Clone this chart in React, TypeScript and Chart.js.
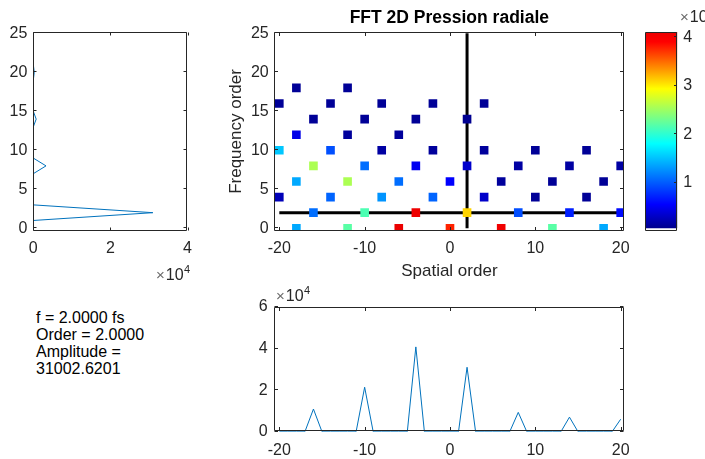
import React, { useEffect, useRef } from 'react';
import { Chart, registerables } from 'chart.js';

Chart.register(...registerables);

const FONT = "'Liberation Sans', Arial, Helvetica, sans-serif";
const AXIS_COLOR = '#262626';
const LINE_BLUE = '#0072BD';

// ---- 2D spectrum cells (spatial order, frequency order, amplitude) ----
const cellSpatial = [
  -18, -12, -6, 0, 6, 12, 18,
  -16, -10, -4, 2, 8, 14, 20,
  -20, -14, -8, -2, 4, 10, 16,
  -18, -12, -6, 0, 6, 12, 18,
  -16, -10, -4, 2, 8, 14, 20,
  -20, -14, -8, -2, 4, 10, 16,
  -18, -12, -6,
  -16, -10, -4, 2,
  -20, -14, -8, -2, 4,
  -18, -12,
];
const cellFreq = [
  0, 0, 0, 0, 0, 0, 0,
  2, 2, 2, 2, 2, 2, 2,
  4, 4, 4, 4, 4, 4, 4,
  6, 6, 6, 6, 6, 6, 6,
  8, 8, 8, 8, 8, 8, 8,
  10, 10, 10, 10, 10, 10, 10,
  12, 12, 12,
  14, 14, 14, 14,
  16, 16, 16, 16, 16,
  18, 18,
];
const cellAmp = [
  13800, 22000, 41100, 37800, 40500, 22000, 13800,
  10900, 21400, 40800, 31003, 9300, 7000, 6000,
  2400, 10400, 12800, 10400, 3200, 1000, 1000,
  13800, 25700, 10900, 5500, 1200, 1000, 1000,
  25700, 10900, 4900, 3300, 1500, 1500, 1500,
  15300, 9400, 1500, 1200, 1200, 1000, 1000,
  4500, 1200, 1200,
  1000, 1000, 1000, 750,
  1000, 1000, 1000, 1000, 1000,
  1000, 1000,
];

// cursor lines
const cursorSpatial = 2;
const cursorFreq = 2;
const cursorSpatialSpan = [-20, 20];
const cursorFreqSpan = [0, 25];

// column cut (spatial order 2) vs frequency order
const freqOrders = [0, 1, 2, 3, 4, 5, 6, 7, 8, 9, 10, 11, 12, 13, 14, 15, 16, 17, 18, 19, 20, 21, 22, 23, 24, 25];
const columnAmp = [0, 0, 31003, 0, 0, 0, 0, 0, 3300, 0, 0, 0, 0, 0, 750, 0, 0, 0, 0, 0, 250, 0, 0, 0, 0, 0];

// row cut (frequency order 2) vs spatial order
const spatialOrders = [-20, -19, -18, -17, -16, -15, -14, -13, -12, -11, -10, -9, -8, -7, -6, -5, -4, -3, -2, -1, 0, 1, 2, 3, 4, 5, 6, 7, 8, 9, 10, 11, 12, 13, 14, 15, 16, 17, 18, 19, 20];
const rowAmp = [0, 0, 0, 0, 10900, 0, 0, 0, 0, 0, 21400, 0, 0, 0, 0, 0, 40800, 0, 0, 0, 0, 0, 31003, 0, 0, 0, 0, 0, 9300, 0, 0, 0, 0, 0, 7000, 0, 0, 0, 0, 0, 6000];

// ticks
const spatialTicks = [-20, -10, 0, 10, 20];
const freqTicks = [0, 5, 10, 15, 20, 25];
const leftAmpTicks = [0, 20000, 40000];
const bottomAmpTicks = [0, 20000, 40000, 60000];
const colorbarTicks = [10000, 20000, 30000, 40000];

const infoLines = ['f = 2.0000 fs', 'Order = 2.0000', 'Amplitude =', '31002.6201'];

// colour scale
const colorMax = 41100;
const whiteLevel = colorMax / 64;
const cmapPos = [0, 0.12, 0.43, 0.71, 0.95, 1];
const cmapRGB = [
  [0, 0, 143],
  [0, 0, 255],
  [0, 255, 255],
  [255, 255, 0],
  [255, 0, 0],
  [235, 0, 0],
];

function rgbAt(t: number) {
  const tt = Math.max(0, Math.min(1, t));
  for (let i = 1; i < cmapPos.length; i++) {
    if (tt <= cmapPos[i]) {
      const f = (tt - cmapPos[i - 1]) / (cmapPos[i] - cmapPos[i - 1]);
      const a = cmapRGB[i - 1];
      const b = cmapRGB[i];
      return a.map((c, k) => Math.round(c + (b[k] - c) * f));
    }
  }
  return cmapRGB[cmapRGB.length - 1];
}
function colorFor(v: number) {
  if (v < whiteLevel) return '#ffffff';
  const c = rgbAt((v - whiteLevel) / (colorMax - whiteLevel));
  return `rgb(${c[0]},${c[1]},${c[2]})`;
}

function drawExponent(ctx: CanvasRenderingContext2D, x: number, y: number) {
  ctx.save();
  ctx.textBaseline = 'middle';
  ctx.textAlign = 'left';
  ctx.fillStyle = '#6a6a6a';
  ctx.font = `15px ${FONT}`;
  ctx.fillText('\u00d7', x, y);
  const w1 = ctx.measureText('\u00d7').width + 1;
  ctx.fillStyle = AXIS_COLOR;
  ctx.font = `16px ${FONT}`;
  ctx.fillText('10', x + w1, y);
  const w2 = ctx.measureText('10').width;
  ctx.font = `11px ${FONT}`;
  ctx.fillText('4', x + w1 + w2 + 0.5, y - 6);
  ctx.restore();
}

type BoxOpts = {
  xTicks?: number[];
  yTicks?: number[];
  len: number;
  leftY?: boolean;
  rightY?: boolean;
  exponent?: [number, number];
};

function boxPlugin(o: BoxOpts) {
  return {
    id: 'matBox',
    afterDraw(chart: any) {
      const { ctx, chartArea: a, scales } = chart;
      const L = Math.floor(a.left) + 0.5;
      const R = Math.floor(a.right) - 0.5;
      const T = Math.floor(a.top) + 0.5;
      const B = Math.floor(a.bottom) - 0.5;
      ctx.save();
      ctx.strokeStyle = AXIS_COLOR;
      ctx.lineWidth = 1;
      ctx.beginPath();
      ctx.rect(L, T, R - L, B - T);
      (o.xTicks || []).forEach((v) => {
        const p = Math.round(scales.x.getPixelForValue(v)) + 0.5;
        ctx.moveTo(p, B);
        ctx.lineTo(p, B - o.len);
        ctx.moveTo(p, T);
        ctx.lineTo(p, T + o.len);
      });
      (o.yTicks || []).forEach((v) => {
        const p = Math.round(scales.y.getPixelForValue(v)) - 0.5;
        if (o.leftY !== false) {
          ctx.moveTo(L, p);
          ctx.lineTo(L + o.len, p);
        }
        if (o.rightY !== false) {
          ctx.moveTo(R, p);
          ctx.lineTo(R - o.len, p);
        }
      });
      ctx.stroke();
      ctx.restore();
      if (o.exponent) drawExponent(ctx, o.exponent[0], o.exponent[1]);
    },
  };
}

const tickFont = { size: 16, family: FONT };

function linearAxis(opts: any) {
  const { min, max, ticks, size, position, pad, fmt, title } = opts;
  const horizontal = position === 'bottom' || position === 'top';
  return {
    type: 'linear',
    position,
    min,
    max,
    bounds: 'data',
    grid: { display: false, drawTicks: false },
    border: { display: false },
    ticks: {
      font: tickFont,
      color: AXIS_COLOR,
      padding: pad,
      autoSkip: false,
      maxRotation: 0,
      callback: fmt || ((v: number) => String(v)),
    },
    title: title || { display: false },
    afterBuildTicks: (s: any) => {
      s.ticks = ticks.map((v: number) => ({ value: v }));
    },
    afterFit: (s: any) => {
      if (horizontal) s.height = size;
      else s.width = size;
    },
  };
}

const baseOptions = {
  responsive: false,
  animation: false as const,
  events: [] as any[],
  plugins: { legend: { display: false }, tooltip: { enabled: false } },
};

export default function App() {
  const mainRef = useRef<HTMLCanvasElement>(null);
  const leftRef = useRef<HTMLCanvasElement>(null);
  const bottomRef = useRef<HTMLCanvasElement>(null);
  const cbarRef = useRef<HTMLCanvasElement>(null);

  useEffect(() => {
    Chart.defaults.font.family = FONT;
    Chart.defaults.color = AXIS_COLOR;
    const charts: Chart[] = [];

    // main map
    charts.push(
      new Chart(mainRef.current as HTMLCanvasElement, {
        type: 'scatter',
        data: {
          datasets: [
            {
              data: cellSpatial.map((x, i) => ({ x, y: cellFreq[i] })),
              pointStyle: 'rect',
              pointRadius: 6.1,
              pointBorderWidth: 0,
              borderWidth: 0,
              pointBackgroundColor: cellAmp.map(colorFor),
              showLine: false,
            },
            {
              data: cursorSpatialSpan.map((x) => ({ x, y: cursorFreq })),
              showLine: true,
              borderColor: '#000',
              borderWidth: 3,
              pointRadius: 0,
            },
            {
              data: cursorFreqSpan.map((y) => ({ x: cursorSpatial, y })),
              showLine: true,
              borderColor: '#000',
              borderWidth: 3,
              pointRadius: 0,
            },
          ] as any,
        },
        options: {
          ...baseOptions,
          layout: { padding: { left: 0, right: 16, top: 0, bottom: 0 } },
          plugins: {
            ...baseOptions.plugins,
            title: {
              display: true,
              text: 'FFT 2D Pression radiale',
              fullSize: false,
              color: '#000',
              font: { size: 17.5, weight: 'bold', family: FONT },
              padding: { top: 8, bottom: 3 },
            },
          },
          scales: {
            x: linearAxis({
              min: -20.54,
              max: 20.39,
              ticks: spatialTicks,
              size: 59,
              position: 'bottom',
              pad: 8,
              title: {
                display: true,
                text: 'Spatial order',
                color: AXIS_COLOR,
                font: { size: 17, family: FONT },
                padding: { top: 0, bottom: 8 },
              },
            }),
            y: linearAxis({
              min: -0.35,
              max: 25.17,
              ticks: freqTicks,
              size: 74.7,
              position: 'left',
              pad: 6,
              title: {
                display: true,
                text: 'Frequency order',
                color: AXIS_COLOR,
                font: { size: 17, family: FONT },
                padding: { top: 26, bottom: 0 },
              },
            }),
          } as any,
        } as any,
        plugins: [boxPlugin({ xTicks: spatialTicks, yTicks: freqTicks, len: 3.5 })],
      })
    );

    // left: amplitude vs frequency order
    charts.push(
      new Chart(leftRef.current as HTMLCanvasElement, {
        type: 'scatter',
        data: {
          datasets: [
            {
              data: freqOrders.map((f, i) => ({ x: columnAmp[i], y: f })),
              showLine: true,
              borderColor: LINE_BLUE,
              borderWidth: 1,
              pointRadius: 0,
            },
          ],
        },
        options: {
          ...baseOptions,
          layout: { padding: { left: 0, right: 5.7, top: 32, bottom: 0 } },
          scales: {
            x: linearAxis({
              min: 0,
              max: 40000,
              ticks: leftAmpTicks,
              size: 59,
              position: 'bottom',
              pad: 8,
              fmt: (v: number) => String(v / 10000),
            }),
            y: linearAxis({
              min: -0.35,
              max: 25.17,
              ticks: freqTicks,
              size: 33.3,
              position: 'left',
              pad: 6,
            }),
          } as any,
        } as any,
        plugins: [boxPlugin({ xTicks: leftAmpTicks, yTicks: freqTicks, len: 3, exponent: [156, 276] })],
      })
    );

    // bottom: amplitude vs spatial order
    charts.push(
      new Chart(bottomRef.current as HTMLCanvasElement, {
        type: 'scatter',
        data: {
          datasets: [
            {
              data: spatialOrders.map((x, i) => ({ x, y: rowAmp[i] })),
              showLine: true,
              borderColor: LINE_BLUE,
              borderWidth: 1,
              pointRadius: 0,
            },
          ],
        },
        options: {
          ...baseOptions,
          layout: { padding: { left: 0, right: 16, top: 27, bottom: 0 } },
          scales: {
            x: linearAxis({
              min: -20.54,
              max: 20.39,
              ticks: spatialTicks,
              size: 27.3,
              position: 'bottom',
              pad: 9,
            }),
            y: linearAxis({
              min: 0,
              max: 60000,
              ticks: bottomAmpTicks,
              size: 74.7,
              position: 'left',
              pad: 7,
              fmt: (v: number) => String(v / 10000),
            }),
          } as any,
        } as any,
        plugins: [boxPlugin({ xTicks: spatialTicks, yTicks: bottomAmpTicks, len: 3.5, exponent: [76, 17] })],
      })
    );

    // colorbar
    charts.push(
      new Chart(cbarRef.current as HTMLCanvasElement, {
        type: 'bar',
        data: {
          labels: [''],
          datasets: [
            {
              data: [[whiteLevel, colorMax]] as any,
              borderWidth: 0,
              barPercentage: 1,
              categoryPercentage: 1,
              backgroundColor: (c: any) => {
                const chart = c.chart;
                if (!chart.chartArea || !chart.scales.y) return 'blue';
                const ys = chart.scales.y;
                const g = chart.ctx.createLinearGradient(
                  0,
                  ys.getPixelForValue(whiteLevel),
                  0,
                  ys.getPixelForValue(colorMax)
                );
                cmapPos.forEach((p, i) => {
                  const c3 = cmapRGB[i];
                  g.addColorStop(p, `rgb(${c3[0]},${c3[1]},${c3[2]})`);
                });
                return g;
              },
            },
          ],
        },
        options: {
          ...baseOptions,
          layout: { padding: { left: 15.7, right: 0, top: 32, bottom: 59 } },
          scales: {
            x: { display: false },
            y: linearAxis({
              min: 0,
              max: colorMax,
              ticks: colorbarTicks,
              size: 27.7,
              position: 'right',
              pad: 6,
              fmt: (v: number) => String(v / 10000),
            }),
          } as any,
        } as any,
        plugins: [boxPlugin({ yTicks: colorbarTicks, len: 2.5, leftY: false, exponent: [50, 18] })],
      })
    );

    return () => charts.forEach((c) => c.destroy());
  }, []);

  const abs = (l: number, t: number, w: number, h: number): React.CSSProperties => ({
    position: 'absolute',
    left: l,
    top: t,
    width: w,
    height: h,
  });

  return (
    <div style={{ position: 'fixed', left: 0, top: 0, width: 705, height: 459, background: '#fff', overflow: 'hidden' }}>
      <canvas ref={leftRef} width={200} height={290} style={abs(0, 0, 200, 290)} />
      <canvas ref={mainRef} width={440} height={290} style={abs(200, 0, 440, 290)} />
      <canvas ref={cbarRef} width={75} height={290} style={abs(630, 0, 75, 290)} />
      <canvas ref={bottomRef} width={440} height={179} style={abs(200, 280, 440, 179)} />
      <div
        style={{
          position: 'absolute',
          left: 36,
          top: 309,
          fontFamily: FONT,
          fontSize: 16,
          lineHeight: '17px',
          color: '#000',
        }}
      >
        {infoLines.map((s, i) => (
          <div key={i}>{s}</div>
        ))}
      </div>
    </div>
  );
}
